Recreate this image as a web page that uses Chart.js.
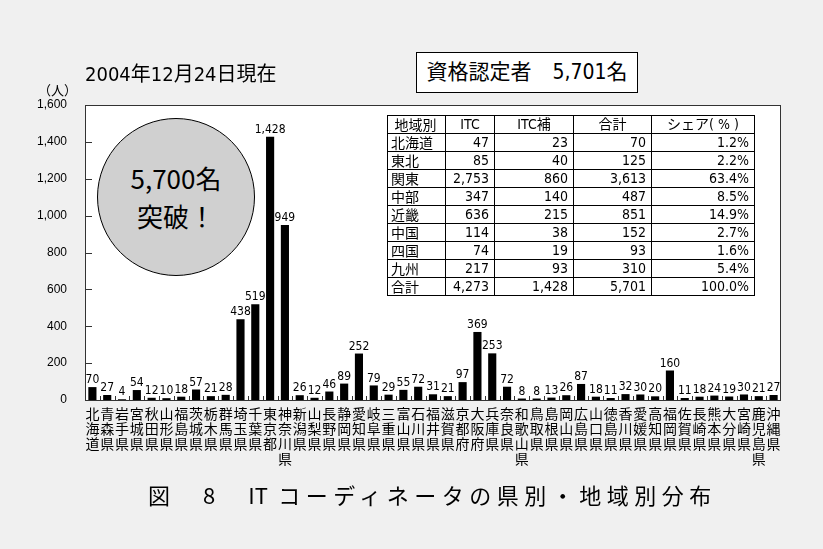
<!DOCTYPE html>
<html>
<head>
<meta charset="utf-8">
<script src="https://cdn.jsdelivr.net/npm/chart.js@4.4.1/dist/chart.umd.min.js"></script>
<style>
  body { margin: 0; background: #f0f0f0; }
  #wrap { position: relative; width: 823px; height: 549px; background: #f0f0f0;
          font-family: "DejaVu Sans Condensed", "Noto Sans CJK JP", sans-serif; color: #000; }
  #chart { position: absolute; left: 0; top: 0; }
  .txt { position: absolute; white-space: nowrap; line-height: 1; }
  #asof { left: 85px; top: 64px; font-size: 20px; }
  #unit { left: 38px; top: 83px; font-size: 13px; font-family: "Noto Sans CJK JP", sans-serif; }
  #total { left: 416px; top: 52px; width: 220px; height: 39px; border: 1px solid #000; background: #fff;
           font-size: 21px; line-height: 39px; text-align: center; }
  #badge { position: absolute; left: 97px; top: 118px; width: 156px; border-radius: 50%;
           border: 1px solid #000; background: #d0d0d0; text-align: center; font-size: 26px; line-height: 38px;
           font-family: "Noto Sans CJK JP", sans-serif; padding-top: 40px; height: 116px; }
  #region { position: absolute; left: 387px; top: 115px; border-collapse: collapse; background: #fff;
            font-size: 14px; }
  #region td { border: 1px solid #000; height: 17px; padding: 0 5px; line-height: 17px; text-align: right; }
  #region td:first-child { text-align: left; padding-left: 3px; font-family: "Noto Sans CJK JP", sans-serif; }
  #region tr:first-child td { text-align: center; }
  #caption { left: 148px; top: 483px; font-size: 22px; letter-spacing: 5.5px; font-family: "Noto Sans CJK JP", sans-serif; }
  #caption span { letter-spacing: 0; }
</style>
</head>
<body>
<div id="wrap">
  <canvas id="chart" width="823" height="549"></canvas>
  <div class="txt" id="asof">2004年12月24日現在</div>
  <div class="txt" id="unit">（人）</div>
  <div class="txt" id="total">資格認定者　5,701名</div>
  <div id="badge">5,700名<br>突破！</div>
  <table id="region"></table>
  <div class="txt" id="caption">図　8　<span>IT</span> コーディネータの県別・地域別分布</div>
</div>
<script>
// prefecture counts, north to south
const prefNames = ["北海道","青森県","岩手県","宮城県","秋田県","山形県","福島県","茨城県","栃木県","群馬県",
  "埼玉県","千葉県","東京都","神奈川県","新潟県","山梨県","長野県","静岡県","愛知県","岐阜県",
  "三重県","富山県","石川県","福井県","滋賀県","京都府","大阪府","兵庫県","奈良県","和歌山県",
  "鳥取県","島根県","岡山県","広島県","山口県","徳島県","香川県","愛媛県","高知県","福岡県",
  "佐賀県","長崎県","熊本県","大分県","宮崎県","鹿児島県","沖縄県"];
const prefCounts = [70,27,4,54,12,10,18,57,21,28,
  438,519,1428,949,26,12,46,89,252,79,
  29,55,72,31,21,97,369,253,72,8,
  8,13,26,87,18,11,32,30,20,160,
  11,18,24,19,30,21,27];

// regional summary table
const tableHeader = ["地域別","ITC","ITC補","合計","シェア( % )"];
const regions = ["北海道","東北","関東","中部","近畿","中国","四国","九州","合計"];
const itc     = ["47","85","2,753","347","636","114","74","217","4,273"];
const itcHo   = ["23","40","860","140","215","38","19","93","1,428"];
const sums    = ["70","125","3,613","487","851","152","93","310","5,701"];
const shares  = ["1.2%","2.2%","63.4%","8.5%","14.9%","2.7%","1.6%","5.4%","100.0%"];

const yTicks = [0,200,400,600,800,1000,1200,1400,1600];

// build the table
var tbl = document.getElementById("region");
var colW = [49, 38, 68, 67, 92];
var html = "<tr>" + tableHeader.map((h, i) => `<td style="width:${colW[i]}px">${h}</td>`).join("") + "</tr>";
for (let i = 0; i < regions.length; i++) {
    html += `<tr><td>${regions[i]}</td><td>${itc[i]}</td><td>${itcHo[i]}</td><td>${sums[i]}</td><td>${shares[i]}</td></tr>`;
}
tbl.innerHTML = html;

const NUM_FONT = "'DejaVu Sans Condensed', 'Noto Sans CJK JP', sans-serif";

// white plot area, frame, inner tick marks and value labels
const decorPlugin = {
    id: "decor",
    beforeDraw(chart) {
        const a = chart.chartArea;
        chart.ctx.save();
        chart.ctx.fillStyle = "#ffffff";
        chart.ctx.fillRect(a.left, a.top, a.right - a.left, a.bottom - a.top);
        chart.ctx.restore();
    },
    afterDatasetsDraw(chart) {
        const ctx = chart.ctx;
        const a = chart.chartArea;
        const xs = chart.scales.x, ys = chart.scales.y;
        ctx.save();
        ctx.strokeStyle = "#333";
        ctx.lineWidth = 1;
        ctx.strokeRect(a.left + 0.5, a.top + 0.5, a.right - a.left - 1, a.bottom - a.top);
        ctx.beginPath();
        yTicks.forEach(v => {
            let y = Math.round(ys.getPixelForValue(v)) + 0.5;
            ctx.moveTo(a.left, y);
            ctx.lineTo(a.left + 7, y);
        });
        let half = (xs.getPixelForValue(1) - xs.getPixelForValue(0)) / 2;
        for (let i = 1; i < prefCounts.length; i++) {
            let x = Math.round(xs.getPixelForValue(i) - half) + 0.5;
            ctx.moveTo(x, a.bottom);
            ctx.lineTo(x, a.bottom - 4);
        }
        ctx.stroke();

        ctx.fillStyle = "#000";
        ctx.font = "12px " + NUM_FONT;
        ctx.textAlign = "center";
        ctx.textBaseline = "bottom";
        chart.getDatasetMeta(0).data.forEach((bar, i) => {
            ctx.fillText(prefCounts[i].toLocaleString("en-US"), bar.x, bar.y - 1);
        });
        ctx.restore();
    }
};

var ctx = document.getElementById("chart").getContext("2d");
const config = {
    type: "bar",
    data: {
        labels: prefNames.map(n => n.split("")),
        datasets: [{
            data: prefCounts,
            backgroundColor: "#000",
            barPercentage: 0.55,
            categoryPercentage: 1.0
        }]
    },
    options: {
        responsive: false,
        devicePixelRatio: 1,
        animation: false,
        plugins: { legend: { display: false }, tooltip: { enabled: false } },
        layout: { padding: { left: 0, right: 42, top: 105, bottom: 0 } },
        scales: {
            x: {
                grid: { display: false, drawTicks: false },
                border: { display: false },
                ticks: {
                    autoSkip: false, maxRotation: 0, minRotation: 0, padding: 6,
                    color: "#000",
                    font: { family: "'Noto Sans CJK JP', sans-serif", size: 14, lineHeight: 1.07 }
                },
                afterFit: function (scale) { scale.height = 149; }
            },
            y: {
                min: 0, max: 1600,
                grid: { display: false, drawTicks: false },
                border: { display: false },
                ticks: {
                    stepSize: 200, padding: 18, color: "#000",
                    font: { family: "'Liberation Sans', Arial, sans-serif", size: 12 },
                    callback: v => v.toLocaleString("en-US")
                },
                afterFit: function (scale) { scale.width = 85; }
            }
        }
    },
    plugins: [decorPlugin]
};

var myChart = new Chart(ctx, config);
</script>
</body>
</html>
